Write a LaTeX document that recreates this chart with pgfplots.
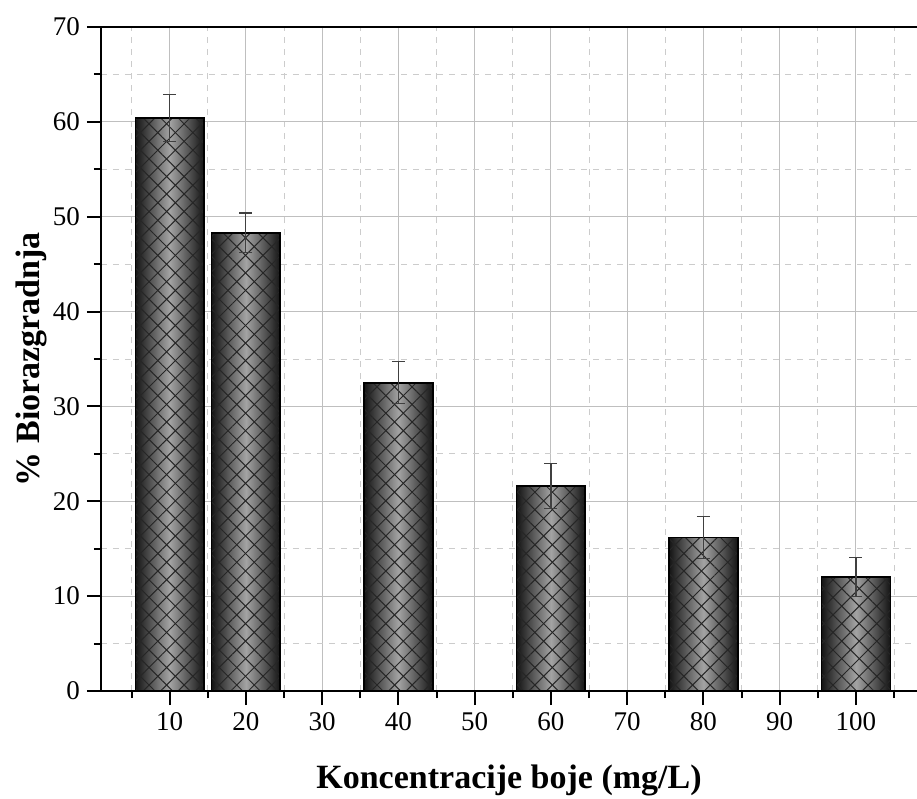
\documentclass[border=0pt]{standalone}
\usepackage{fontspec}
\setmainfont{Liberation Serif}
\usepackage{pgfplots}
\usepackage{pgfplotstable}
\pgfplotsset{compat=1.18}
\usetikzlibrary{patterns.meta}
\pgfplotstableread{
x    y     err
10   60.4  2.5
20   48.3  2.1
40   32.5  2.2
60   21.6  2.4
80   16.2  2.2
100  12.0  2.05
}\datatable
\pgfplotsset{
  shadebar/.style={ybar, bar width=9, bar shift=0pt, draw=none, forget plot,
    left color=black!92, right color=black!92, middle color=black!36},
  patbar/.style={ybar, bar width=9, bar shift=0pt, draw=none, forget plot,
    pattern={Lines[angle=#1,distance=6.2pt,line width=0.5pt]}, pattern color=black!85},
}
\begin{document}
\begin{tikzpicture}
\useasboundingbox (-50.5pt,-54pt) rectangle (408pt,345.5pt);
\begin{axis}[
  at={(0pt,0pt)}, anchor=south west,
  scale only axis, width=408pt, height=332pt,
  xmin=1, xmax=108, ymin=0, ymax=70,
  axis lines*=left,
  axis line style={line width=1pt, black},
  clip=false,
  xtick={10,20,...,100}, minor xtick={5,15,...,105},
  ytick={0,10,...,70}, minor ytick={5,15,...,65},
  tick align=outside,
  major tick length=7pt, minor tick length=3.5pt,
  tick style={black, line width=1pt},
  grid=both,
  major grid style={black!25, line width=0.5pt, solid},
  minor grid style={black!20, line width=0.4pt, dashed},
  /pgf/number format/assume math mode=true,
  tick label style={font=\fontsize{13.5}{16}\selectfont},
  xlabel={Koncentracije boje (mg/L)},
  ylabel={\% Biorazgradnja},
  label style={font=\bfseries\fontsize{17}{20}\selectfont},
  xlabel style={at={(axis description cs:0.5,-0.134)}, anchor=center},
  ylabel style={at={(axis description cs:-0.085,0.5)}, anchor=center},
]
\addplot[shadebar] coordinates {(10,60.4)};
\addplot[shadebar] coordinates {(20,48.3)};
\addplot[shadebar] coordinates {(40,32.5)};
\addplot[shadebar] coordinates {(60,21.6)};
\addplot[shadebar] coordinates {(80,16.2)};
\addplot[shadebar] coordinates {(100,12.0)};
\addplot[patbar=45] table[x=x,y=y] {\datatable};
\addplot[patbar=-45] table[x=x,y=y] {\datatable};
\addplot[ybar, bar width=9, bar shift=0pt, draw=black, fill=none, line width=0.8pt, forget plot]
  table[x=x,y=y] {\datatable};
\addplot[draw=none, mark=none, forget plot,
  error bars/.cd, y dir=both, y explicit,
  error bar style={draw=black!75, line width=0.6pt, solid},
  error mark options={draw=black!75, rotate=90, mark size=3.25pt, line width=0.6pt, solid}]
  table[x=x, y=y, y error=err] {\datatable};
\draw[line width=1pt, black] (rel axis cs:0,1) -- (rel axis cs:1,1);
\end{axis}
\end{tikzpicture}
\end{document}
